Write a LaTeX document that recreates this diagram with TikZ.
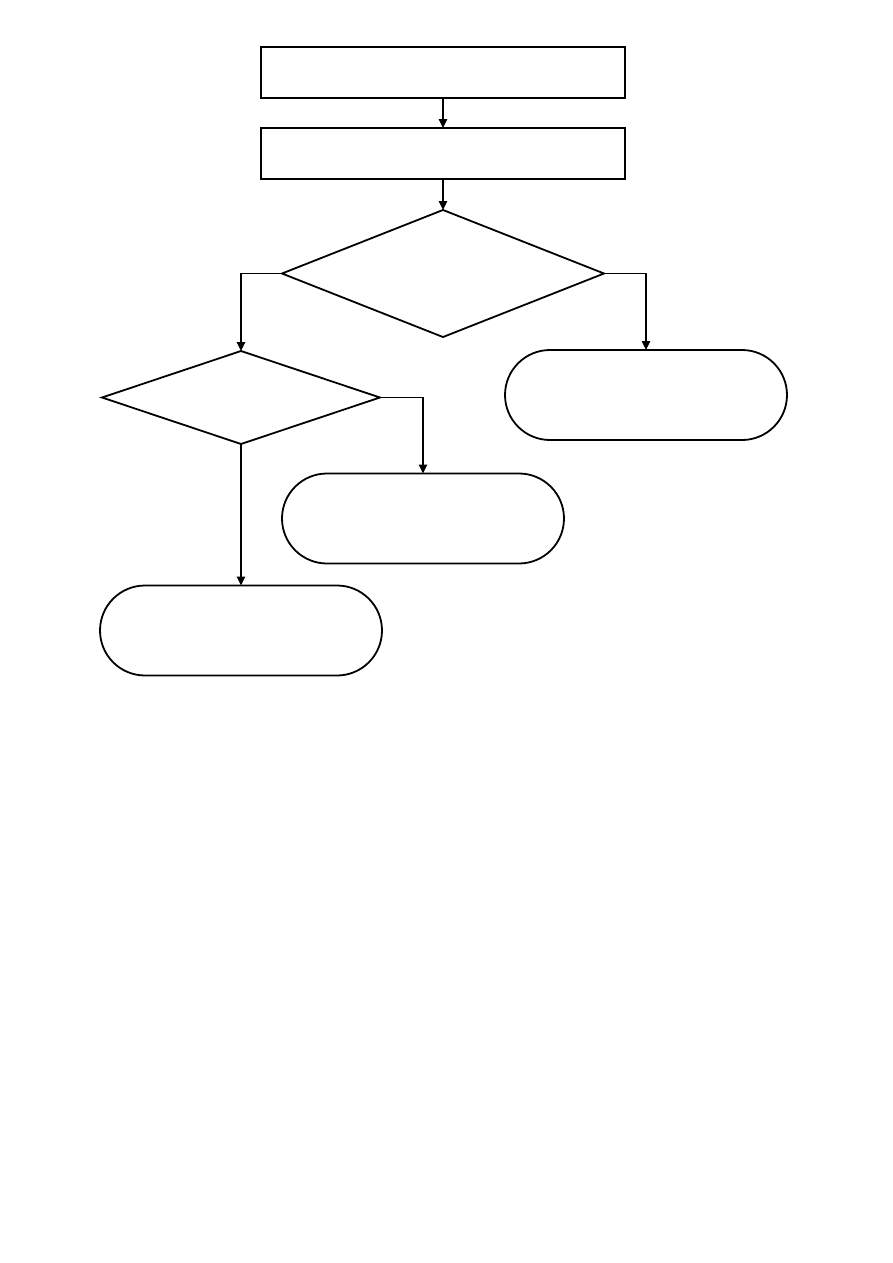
\documentclass[tikz,border=0pt]{standalone}
\usepackage{tikz}
\usetikzlibrary{arrows.meta, shapes.geometric, shapes.misc}

\begin{document}
\begin{tikzpicture}[x=0.6667bp,y=-0.6667bp,line width=1.2pt,>={Triangle[length=6pt,width=5.5pt]},
        process/.style={draw,rectangle,inner sep=0pt,outer sep=0pt,minimum width=242.7bp,minimum height=34bp},
        decision/.style={draw,diamond,inner sep=0pt,outer sep=0pt},
        terminal/.style={draw,rounded rectangle,inner sep=0pt,outer sep=0pt,minimum width=188bp,minimum height=60bp}]
    \useasboundingbox (0,0) rectangle (893,1263);

      \node[process]  (box_1) at (443,72.5)  {};
      \node[process]  (box_2) at (443,153.5) {};
      \node[decision, minimum width=214.7bp, minimum height=84.7bp] (dec_1) at (443,273.5) {};
      \node[decision, minimum width=185.3bp, minimum height=62bp]   (dec_2) at (241,397.5) {};
      \node[terminal] (end_1) at (646,395)   {};
      \node[terminal] (end_2) at (423,518.5) {};
      \node[terminal] (end_3) at (241,630.5) {};

      \draw[->] (box_1) -- (box_2);
      \draw[->] (box_2) -- (dec_1);
      \draw[->] (dec_1.west) -| (dec_2.north);
      \draw[->] (dec_1.east) -| (end_1.north);
      \draw[->] (dec_2.east) -| (end_2.north);
      \draw[->] (dec_2.south) -- (end_3.north);
    \end{tikzpicture}
\end{document}
